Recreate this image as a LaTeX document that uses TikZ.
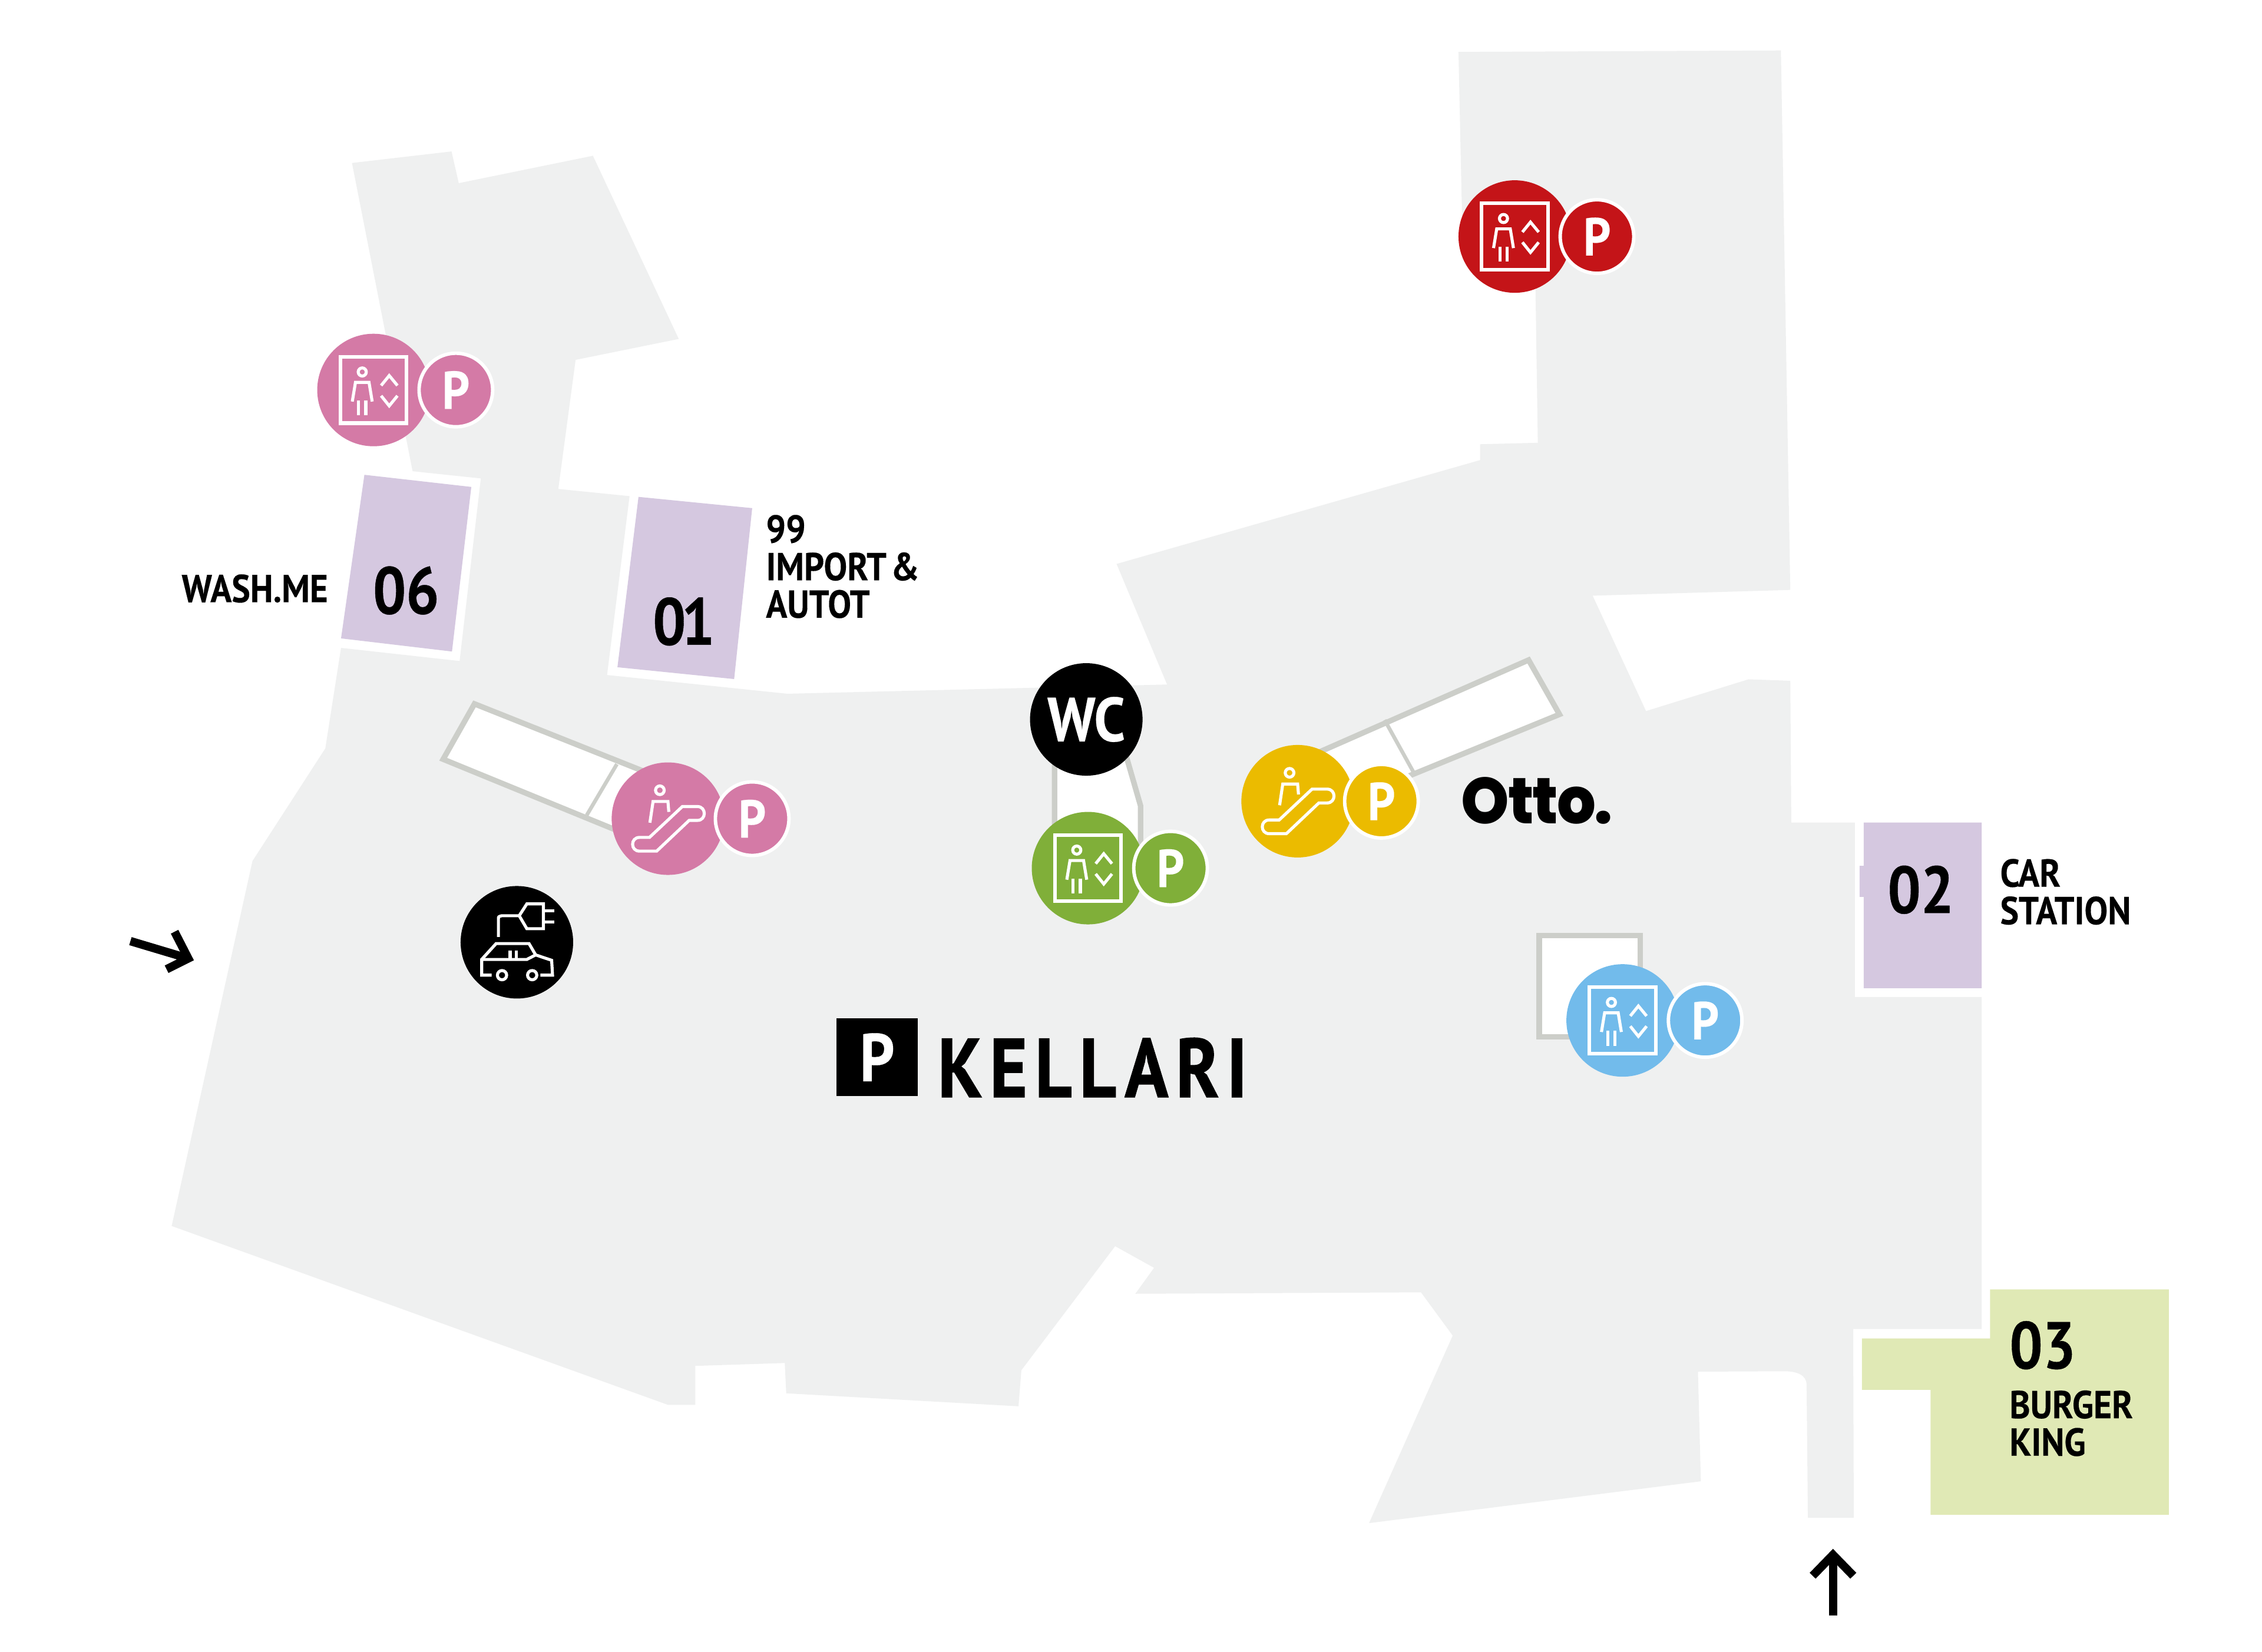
\documentclass[tikz,border=0pt]{standalone}
\usepackage{fontspec}
\setmainfont{PT Sans}
\newfontfamily\narrowfont[FakeStretch=0.9,FakeBold=0.25]{PT Sans}
\newfontfamily\numfont[FakeStretch=0.88,FakeBold=0.4]{PT Sans}
\newfontfamily\titlefont[FakeStretch=0.86,LetterSpace=9,FakeBold=0.9]{PT Sans}
\newfontfamily\ottofont[FakeStretch=0.94,LetterSpace=-2,BoldFont={Poppins ExtraBold}]{Poppins}
\definecolor{floorc}{HTML}{EFF0F0}
\definecolor{wallc}{HTML}{CCCEC9}
\definecolor{unitc}{HTML}{D5C8E0}
\definecolor{burgerc}{HTML}{E0E9B5}
\definecolor{pinkc}{HTML}{D47AA6}
\definecolor{redc}{HTML}{C41418}
\definecolor{greenc}{HTML}{80AF39}
\definecolor{yellowc}{HTML}{EBBB00}
\definecolor{bluec}{HTML}{72BBEB}
\tikzset{
  x=1pt,y=-1pt,
  floorshape/.style={fill=floorc,draw=none},
  wallbox/.style={fill=white,draw=wallc,line width=3.8pt,miter limit=10},
  unitshape/.style={fill=unitc,draw=none},
  burgershape/.style={fill=burgerc,draw=none},
  disc/.style={circle,inner sep=0pt,outer sep=0pt,minimum size=78pt},
  pdisc/.style={circle,inner sep=0pt,outer sep=0pt,minimum size=51pt,draw=white,line width=2.4pt,text=white,font=\narrowfont\fontsize{37}{37}\selectfont\bfseries},
  icon/.style={draw=white,line width=2.1pt,fill=none},
  label/.style={inner sep=0pt,outer sep=0pt,anchor=base west,font=\narrowfont\fontsize{27}{26}\selectfont\bfseries,align=left},
  number/.style={inner sep=0pt,outer sep=0pt,anchor=base west,font=\numfont\fontsize{46}{46}\selectfont\bfseries},
  arrowmark/.style={draw=black,line width=5.8pt,fill=none},
  pics/lift/.style={code={
    \draw[icon,line width=2.5pt] (-23,-23) rectangle (23,23);
    \draw[icon] (-7.8,-12.5) circle[radius=2.8pt];
    \draw[icon] (-14.7,8) -- (-12.5,-5.3) -- (-3.1,-5.3) -- (-0.9,8);
    \draw[icon] (-10.3,7.2) -- (-10.3,17.5) (-5.3,7.2) -- (-5.3,17.5);
    \draw[icon] (5.3,-3.1) -- (10.9,-10) -- (16.6,-3.1);
    \draw[icon] (5.3,4) -- (10.9,11) -- (16.6,4);
  }},
  pics/escalator/.style={code={
    \draw[icon] (-5.6,-19.7) circle[radius=3pt];
    \draw[icon] (-12.5,2.8) -- (-10.3,-11.9) -- (0,-11.9) -- (0.6,-4.7);
    \draw[icon] (-19.7,13) -- (-12.8,13) -- (10,-8.4) -- (20.4,-8.4)
      .. controls (26.8,-8.4) and (26.8,1.2) .. (20.4,1.2) -- (14.7,1.2) -- (-7.8,22.5) -- (-19.7,22.5)
      .. controls (-26.1,22.5) and (-26.1,13) .. (-19.7,13) -- cycle;
  }},
  pics/evcar/.style={code={
    \draw[icon] (-12.8,-3.75) -- (-12.8,-16) .. controls (-12.8,-17.8) .. (-10.5,-18.4) -- (1.6,-18.4);
    \draw[icon] (1.6,-18.4) -- (6.9,-26.6) -- (18.4,-26.6) -- (18.4,-9.4) -- (6.9,-9.4) -- cycle;
    \draw[icon] (18.4,-21.9) -- (25.9,-21.9) (18.4,-14.1) -- (25.9,-14.1);
    \draw[icon] (-17.5,22.8) -- (-24.4,22.8) -- (-24.4,11.9) -- (-14.4,0.9) -- (8.4,0.9) -- (13,8.75) -- (24.1,12.5) -- (24.7,22.8) -- (16.3,22.8);
    \draw[icon] (-24.4,11.9) -- (6.9,11.9) -- (13,8.75);
    \draw[icon] (-4.7,5.6) -- (-4.7,11) (-0.3,5.6) -- (-0.3,11);
    \draw[icon] (-10.3,22.8) circle[radius=3.2pt] (10.6,22.8) circle[radius=3.2pt];
  }},
}
\begin{document}
\begin{tikzpicture}
\useasboundingbox[fill=white] (0,0) rectangle (1568,1145);

% floor
\path[floorshape] (244,113) -- (313,105) -- (318,127) -- (411,108) -- (470.5,235) -- (399,249.5) -- (387,339)
  -- (436.4,344) -- (420.8,468) -- (545.8,481) -- (809,474.6) -- (774,391) -- (1026,319) -- (1026,308) -- (1066,307)
  -- (1064,175) -- (1014,175) -- (1011,36) -- (1234.5,35) -- (1241,409) -- (1104,413) -- (1141,493) -- (1212,471)
  -- (1241,472) -- (1241.7,570.3) -- (1285.8,570.3) -- (1285.8,691.3) -- (1373.7,691.3) -- (1373.7,921.4)
  -- (1284.6,921.4) -- (1285,1052.3) -- (1253.2,1052.3) -- (1252.3,960) .. controls (1252.3,953) and (1245,950.7) .. (1236.8,950.7)
  -- (1177,951) -- (1179,1027) -- (949,1056) -- (1007,926) -- (985,896) -- (787,897) -- (800,879) -- (773,864)
  -- (708,950) -- (706,975) -- (545,966) -- (544,945) -- (482,947) -- (482,974) -- (463,974) -- (119,850)
  -- (175,597) -- (225.5,518.9) -- (236.4,449.2) -- (318.6,458.3) -- (333.3,331.7) -- (286,326.7) -- cycle;

% units
\path[unitshape] (252.6,329.2) -- (326.7,337.6) -- (313.3,451.7) -- (236.4,442.6) -- cycle;
\path[unitshape] (442.6,344.5) -- (521.4,352.3) -- (508.9,470.8) -- (428,462.6) -- cycle;
\path[unitshape] (1291.9,570.3) -- (1373.7,570.3) -- (1373.7,685.1) -- (1291.9,685.1) -- (1291.9,621.8) -- (1289,621.8) -- (1289,600.3) -- (1291.9,600.3) -- cycle;
\path[burgershape] (1379.5,894) -- (1503.4,894) -- (1503.4,1050.3) -- (1338.2,1050.3) -- (1338.2,963.6) -- (1290.7,963.6) -- (1290.7,928) -- (1379.5,928) -- cycle;

% wells
\draw[wallbox] (328.9,488) -- (482,549) -- (460,589) -- (307.2,526.4) -- cycle;
\draw[wallbox,line width=2.6pt] (427.6,529.8) -- (406.7,565.2);
\draw[wallbox] (1059.6,457.6) -- (1081,495.3) -- (940,553) -- (895,530) -- cycle;
\draw[wallbox,line width=2.6pt] (959.8,499.2) -- (980,535.7);
\draw[wallbox] (731,515) -- (778,515) -- (790.6,558.6) -- (790.6,590) -- (731,590) -- cycle;
\draw[wallbox] (1067,648.6) rectangle (1137,718.8);

% map labels
\node[number] (n06) at (258.5,425.5) {06};
\node[number] (n01) at (452.5,447) {0\kern-3pt 1};
\node[number] (n02) at (1308.5,633) {02};
\node[number] (n03) at (1393,948.8) {03};
\node[label] (wash) at (126,417.5) {WASH.ME};
\node[label,anchor=north west] (import) at (531,357) {99\\IMPORT\kern3pt\&\\AUTOT};
\node[label,anchor=north west] (car) at (1386.5,595.5) {CAR\\STATION};
\node[label,anchor=north west] (burger) at (1393,964) {BURGER\\KING};
\node[inner sep=0pt,outer sep=0pt,anchor=base west,font=\ottofont\fontsize{45}{45}\selectfont\bfseries] (otto) at (1013,571) {Otto.};
\node[fill=black,inner sep=0pt,outer sep=0pt,minimum width=56pt,minimum height=54pt,anchor=north west,text=white,font=\narrowfont\fontsize{47}{47}\selectfont\bfseries] (pbox) at (580,706) {P};
\node[inner sep=0pt,outer sep=0pt,anchor=base west,font=\titlefont\fontsize{58}{58}\selectfont\bfseries] (kellari) at (650,760.7) {KELLARI};

% markers
\node[disc,fill=pinkc] (liftpink) at (258.9,270.4) {};
\pic at (liftpink.center) {lift};
\node[pdisc,fill=pinkc] (ppink) at (316,270.4) {P};

\node[disc,fill=pinkc] (escpink) at (463,567.6) {};
\pic at (escpink.center) {escalator};
\node[pdisc,fill=pinkc] (pesc) at (521.4,567.6) {P};

\node[disc,fill=black] (ev) at (358.3,653.3) {};
\pic at (ev.center) {evcar};

\node[disc,fill=black,text=white,font=\narrowfont\fontsize{43}{43}\selectfont\bfseries] (wc) at (753,498.8) {WC};

\node[disc,fill=greenc] (liftgreen) at (754.2,601.9) {};
\pic at (liftgreen.center) {lift};
\node[pdisc,fill=greenc] (pgreen) at (811.4,601.9) {P};

\node[disc,fill=yellowc] (escyellow) at (899.5,555.5) {};
\pic at (escyellow.center) {escalator};
\node[pdisc,fill=yellowc] (pyellow) at (957.6,555.5) {P};

\node[disc,fill=bluec] (liftblue) at (1124.8,707.5) {};
\pic at (liftblue.center) {lift};
\node[pdisc,fill=bluec] (pblue) at (1182,707.5) {P};

\node[disc,fill=redc] (liftred) at (1050,164) {};
\pic at (liftred.center) {lift};
\node[pdisc,fill=redc] (pred) at (1107,164) {P};

% entrance arrows
\coordinate (uptail) at (1270.6,1119.9);
\coordinate (uptip) at (1270.6,1078);
\draw[arrowmark] (uptail) -- (uptip);
\draw[arrowmark] (1256.5,1092.5) -- (uptip) -- (1284.7,1092.5);
\coordinate (lefttail) at (90.4,652.5);
\coordinate (lefttip) at (130.5,664.5);
\draw[arrowmark] (lefttail) -- (lefttip);
\draw[arrowmark] (121,646) -- (lefttip) -- (115.5,672);
\end{tikzpicture}
\end{document}
